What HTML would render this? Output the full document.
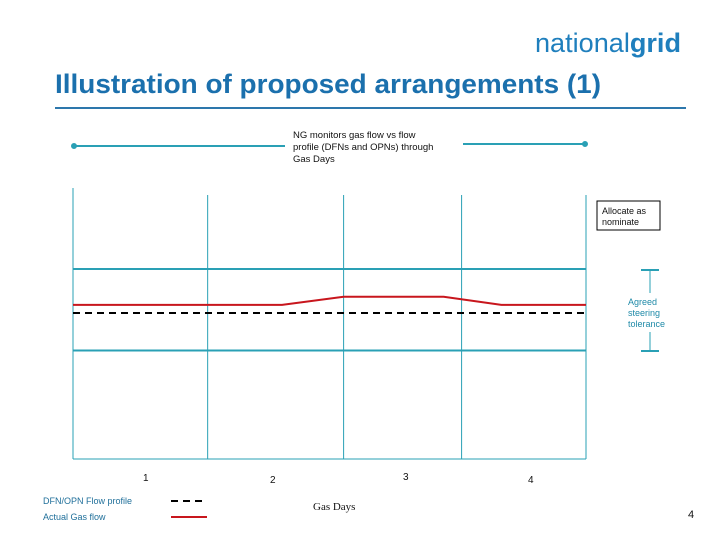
<!DOCTYPE html>
<html><head><meta charset="utf-8">
<style>
body{margin:0;background:#fff;}
svg{display:block;font-family:"Liberation Sans",sans-serif;}
</style></head>
<body>
<svg width="720" height="540" viewBox="0 0 720 540">
<text x="535" y="52" font-size="27" fill="#1f7fbd" textLength="146" lengthAdjust="spacingAndGlyphs"><tspan font-weight="normal">national</tspan><tspan font-weight="bold">grid</tspan></text>
<text x="55" y="93" font-size="27" font-weight="bold" fill="#1b70ad" textLength="546" lengthAdjust="spacingAndGlyphs">Illustration of proposed arrangements (1)</text>
<line x1="55" y1="108" x2="686" y2="108" stroke="#2d77ac" stroke-width="2"/>
<g stroke="#2aa0b5" stroke-width="2">
<line x1="74" y1="146" x2="285" y2="146"/><line x1="463" y1="144" x2="585" y2="144"/>
<circle cx="74" cy="146" r="2" fill="#2aa0b5"/><circle cx="585" cy="144" r="2" fill="#2aa0b5"/>
</g>
<text font-size="9.5" fill="#111"><tspan x="293" y="138">NG monitors gas flow vs flow</tspan><tspan x="293" y="150">profile (DFNs and OPNs) through</tspan><tspan x="293" y="162">Gas Days</tspan></text>
<g id="chart"></g>
<g>
<rect x="597" y="201" width="63" height="29" fill="#fff" stroke="#000" stroke-width="1"/>
<text font-size="9" fill="#111"><tspan x="602" y="214">Allocate as</tspan><tspan x="602" y="225">nominate</tspan></text>
</g>
<g stroke="#2aa0b5" stroke-width="2">
<line x1="641" y1="270" x2="659" y2="270"/><line x1="641" y1="351" x2="659" y2="351"/>
<line x1="650" y1="270" x2="650" y2="293" stroke-width="1"/><line x1="650" y1="332" x2="650" y2="351" stroke-width="1"/>
</g>
<text font-size="9" fill="#1f8aa8"><tspan x="628" y="305">Agreed</tspan><tspan x="628" y="316">steering</tspan><tspan x="628" y="327">tolerance</tspan></text>
<g font-size="10" fill="#111">
<text x="143" y="481">1</text><text x="270" y="483">2</text><text x="403" y="480">3</text><text x="528" y="483">4</text>
</g>
<g>
<text x="43" y="504" font-size="9" fill="#1f6f9a">DFN/OPN Flow profile</text>
<line x1="171" y1="501" x2="207" y2="501" stroke="#000" stroke-width="2" stroke-dasharray="7,5"/>
<text x="43" y="520" font-size="9" fill="#1f6f9a">Actual Gas flow</text>
<line x1="171" y1="517" x2="207" y2="517" stroke="#c8161d" stroke-width="2"/>
</g>
<text x="313" y="510" font-size="11" font-family="Liberation Serif, serif" fill="#111">Gas Days</text>
<text x="688" y="518" font-size="11" fill="#111">4</text>
</svg>
<script>
const dayBoundaries=[0,1.05,2.11,3.03,4];
const toleranceBand=[77,127];
const profileX=[0,4];
const profileY=[100,100];
const actualX=[0,1.63,2.11,2.89,3.34,4];
const actualY=[105,105,110,110,105,105];
const NS='http://www.w3.org/2000/svg';
const g=document.getElementById('chart');
const xS=d=>73+d*(586-73)/4;
const yS=v=>313-(v-100)*1.63;
function mk(tag,a){const e=document.createElementNS(NS,tag);for(const k in a)e.setAttribute(k,a[k]);g.appendChild(e);return e;}
dayBoundaries.forEach((d,i)=>{
 const e=mk('line',{x1:xS(d),x2:xS(d),y1:i===0?188:195,y2:459,stroke:'#2aa0b5','stroke-width':1});
 
 
});
const base=mk('line',{x1:xS(0),x2:xS(4),y1:459,y2:459,stroke:'#2aa0b5','stroke-width':1});


toleranceBand.forEach(v=>{
 const e=mk('line',{x1:xS(0),x2:xS(4),y1:yS(v),y2:yS(v),stroke:'#2aa0b5','stroke-width':2});
 
 
});
const act=mk('polyline',{points:actualX.map((x,i)=>xS(x)+','+yS(actualY[i])).join(' '),fill:'none',stroke:'#c8161d','stroke-width':2});


const prof=mk('polyline',{points:profileX.map((x,i)=>xS(x)+','+yS(profileY[i])).join(' '),fill:'none',stroke:'#000','stroke-width':2,'stroke-dasharray':'7,5'});


</script>
</body></html>
